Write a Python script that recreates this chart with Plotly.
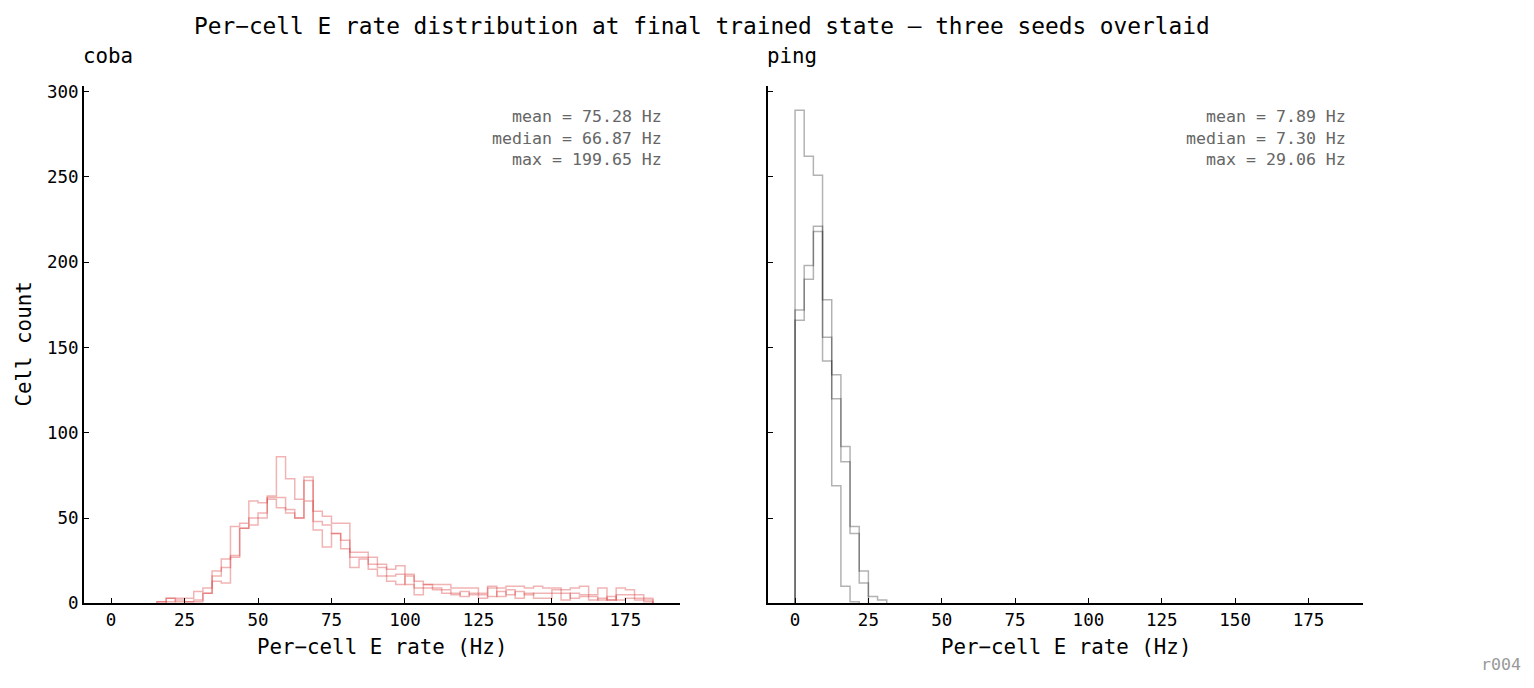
import numpy as np
import plotly.graph_objects as go

# ---------------- data ----------------
BIN_WIDTH = 3.125
N_BINS = 59

coba_seed_a = [0, 0, 0, 0, 0,
               1, 3, 3, 3, 7, 9, 19, 26, 45, 47,
               60, 59, 63, 86, 73, 61, 74, 54, 51, 47,
               47, 30, 30, 27, 23, 20, 22, 17, 13, 11,
               11, 11, 9, 9, 9, 6, 10, 9, 10, 10,
               9, 10, 9, 9, 8, 9, 10, 5, 9, 2,
               9, 8, 5, 3]
coba_seed_b = [0, 0, 0, 0, 0,
               1, 3, 1, 1, 2, 6, 16, 21, 28, 44,
               50, 53, 62, 62, 55, 50, 72, 48, 46, 41,
               37, 27, 27, 23, 21, 16, 17, 11, 9, 11,
               9, 8, 6, 4, 6, 3, 9, 4, 8, 3,
               6, 3, 3, 8, 2, 6, 5, 2, 3, 2,
               5, 5, 3, 2]
coba_seed_c = [0, 0, 0, 0, 0,
               0, 1, 2, 1, 1, 6, 13, 12, 27, 44,
               46, 50, 61, 56, 53, 50, 60, 43, 33, 41,
               32, 21, 26, 20, 16, 13, 11, 16, 5, 9,
               8, 6, 5, 7, 5, 5, 4, 7, 5, 7,
               5, 6, 6, 6, 6, 3, 4, 4, 2, 4,
               2, 3, 2, 1]

ping_seed_a = [289, 262, 251, 142, 69, 10, 1]
ping_seed_b = [166, 190, 218, 156, 134, 92, 45, 19, 4, 2]
ping_seed_c = [172, 198, 221, 178, 120, 83, 41, 12]

coba_stats = ["mean = 75.28 Hz", "median = 66.87 Hz", "max = 199.65 Hz"]
ping_stats = ["mean = 7.89 Hz", "median = 7.30 Hz", "max = 29.06 Hz"]

x_ticks = [0, 25, 50, 75, 100, 125, 150, 175]
y_ticks = [0, 50, 100, 150, 200, 250, 300]

TITLE = "Per\u2212cell E rate distribution at final trained state \u2014 three seeds overlaid"
XLABEL = "Per\u2212cell E rate (Hz)"
YLABEL = "Cell count"

# ---------------- helpers ----------------
edges = np.arange(N_BINS + 1) * BIN_WIDTH


def pad(counts):
    return list(counts) + [0] * (N_BINS - len(counts))


def step_xy(counts):
    """Step outline (matplotlib histtype='step'); zero runs at both ends are
    dropped because they would lie on the axis spine anyway."""
    c = np.array(pad(counts))
    nz = np.nonzero(c)[0]
    i0, i1 = nz[0], nz[-1]
    xs = [edges[i0]] + list(edges[i0:i1 + 1]) + [edges[i1 + 1]]
    ys = [0] + list(c[i0:i1 + 1]) + [0]
    return xs, ys


# The capture shrinks the page vertically by ~1.5 %, so the layout is made a
# little taller and positions are given as fractions of the visible 688 px.
W = 1534
H_LAYOUT = 699
H_VIEW = 688
FONT = "DejaVu Sans Mono"


def fy(p):
    return 1 - p / H_VIEW


def fx(p):
    return p / W


fig = go.Figure()

RED = "rgba(214,39,40,0.35)"
GREY = "rgba(0,0,0,0.30)"

for s in (coba_seed_a, coba_seed_b, coba_seed_c):
    xs, ys = step_xy(s)
    fig.add_trace(go.Scatter(x=xs, y=ys, mode="lines", line=dict(color=RED, width=1.5, shape="hv"),
                             xaxis="x", yaxis="y", showlegend=False, hoverinfo="skip"))
for s in (ping_seed_a, ping_seed_b, ping_seed_c):
    xs, ys = step_xy(s)
    fig.add_trace(go.Scatter(x=xs, y=ys, mode="lines", line=dict(color=GREY, width=1.5, shape="hv"),
                             xaxis="x2", yaxis="y2", showlegend=False, hoverinfo="skip"))

xmax = edges[-1]
xr = [-0.05 * xmax, xmax * 1.05]
ymax = max(max(pad(s)) for s in (coba_seed_a, coba_seed_b, coba_seed_c, ping_seed_a, ping_seed_b, ping_seed_c))
yr = [0, ymax * 1.05]

L1, R1 = fx(84), fx(680)
L2, R2 = fx(768), fx(1363)
B, T = fy(602), fy(82)

axis_common = dict(showline=True, linecolor="black", linewidth=2, ticks="inside", ticklen=5,
                   tickwidth=1.4, tickcolor="black", showgrid=False, zeroline=False,
                   layer="above traces",
                   tickfont=dict(family=FONT, size=17.5, color="black"))

fig.update_layout(
    width=W, height=H_LAYOUT, autosize=False, margin=dict(l=0, r=0, t=0, b=0, pad=0),
    paper_bgcolor="white", plot_bgcolor="white",
    xaxis=dict(domain=[L1, R1], range=xr, tickvals=x_ticks, anchor="y", **axis_common),
    yaxis=dict(domain=[B, T], range=yr, tickvals=y_ticks, anchor="x", **axis_common),
    xaxis2=dict(domain=[L2, R2], range=xr, tickvals=x_ticks, anchor="y2", **axis_common),
    yaxis2=dict(domain=[B, T], range=yr, tickvals=y_ticks, anchor="x2", matches="y",
                showticklabels=False, **axis_common),
)

ann = []
ann.append(dict(text=TITLE, x=fx(702), y=fy(22), xref="paper", yref="paper",
                xanchor="center", yanchor="middle", showarrow=False,
                font=dict(family=FONT, size=22.8, color="black")))
for name, left in (("coba", 81), ("ping", 765)):
    ann.append(dict(text=name, x=fx(left), y=fy(52), xref="paper", yref="paper",
                    xanchor="left", yanchor="middle", showarrow=False,
                    font=dict(family=FONT, size=20.8, color="black")))
for cx in ((84 + 680) / 2, (768 + 1363) / 2):
    ann.append(dict(text=XLABEL, x=fx(cx), y=fy(646), xref="paper", yref="paper",
                    xanchor="center", yanchor="middle", showarrow=False,
                    font=dict(family=FONT, size=20.8, color="black")))
ann.append(dict(text=YLABEL, x=fx(24), y=fy(342), xref="paper", yref="paper",
                xanchor="center", yanchor="middle", textangle=-90, showarrow=False,
                font=dict(family=FONT, size=20.8, color="black")))
for stats, rx in ((coba_stats, 664), (ping_stats, 1348)):
    ann.append(dict(text="<br>".join(stats), x=fx(rx), y=fy(101), xref="paper", yref="paper",
                    xanchor="right", yanchor="top", align="right", showarrow=False,
                    font=dict(family=FONT, size=16.6, color="#666666")))
ann.append(dict(text="r004", x=fx(1523), y=fy(663), xref="paper", yref="paper",
                xanchor="right", yanchor="middle", showarrow=False,
                font=dict(family=FONT, size=16.6, color="#999999")))
fig.update_layout(annotations=ann)

fig.write_html("out.html", config={"responsive": False})
